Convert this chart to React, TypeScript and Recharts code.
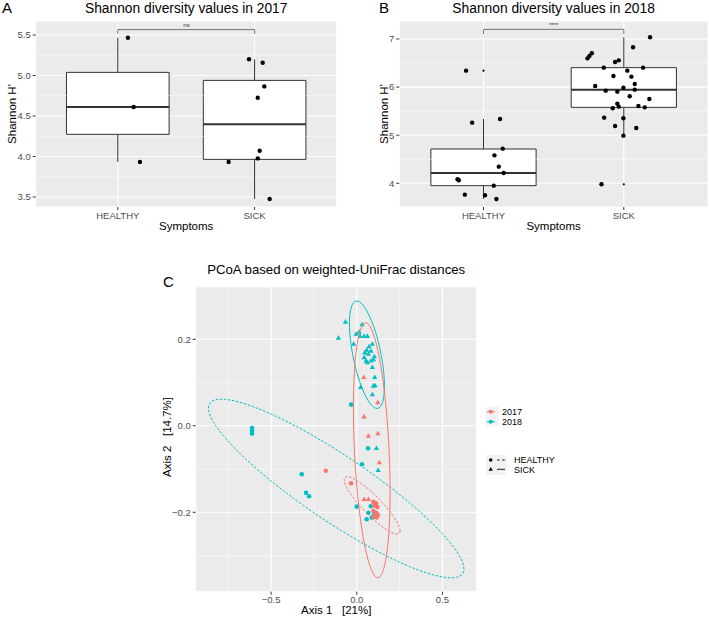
import React from 'react';
import { ScatterChart, Scatter, XAxis, YAxis, CartesianGrid, ReferenceArea, ReferenceLine } from 'recharts';

const FONT = '"Liberation Sans", Arial, sans-serif';
const RED = '#F8766D';
const TEAL = '#00BFC4';
const TICK = { fill: '#4d4d4d', fontSize: 9.5, fontFamily: FONT };

const symptoms = ['HEALTHY', 'SICK'];

// A - Shannon diversity 2017 (jitter = x position of each point around its category)
const healthy2017 = [5.467, 4.611, 3.932];
const healthy2017Jit = [1.074, 1.116, 1.162];
const sick2017 = [5.2, 5.158, 4.866, 4.726, 4.072, 3.977, 3.932, 3.475];
const sick2017Jit = [1.959, 2.059, 2.071, 2.023, 2.037, 2.023, 1.81, 2.11];
const lower2017 = [3.932, 3.475];
const q1_2017 = [4.274, 3.965];
const median2017 = [4.611, 4.397];
const q3_2017 = [5.039, 4.94];
const upper2017 = [5.467, 5.2];
const outliers2017: number[][] = [[], []];

// B - Shannon diversity 2018
const healthy2018 = [6.342, 5.261, 5.337, 4.72, 4.581, 4.346, 4.214, 4.083, 4.062, 3.951, 3.764, 3.75, 3.674];
const healthy2018Jit = [0.876, 0.919, 1.118, 1.137, 1.078, 1.109, 1.144, 0.815, 0.824, 1.073, 0.867, 1.011, 1.092];
const sick2018 = [7.035, 6.827, 6.598, 6.647, 6.702, 6.522, 6.556, 6.404, 6.342, 6.404, 6.231, 6.217, 6.023, 6.064, 5.926, 5.988, 5.905, 5.947, 5.808, 5.753, 5.656, 5.593, 5.607, 5.579, 5.559, 5.365, 5.351, 5.191, 5.15, 4.99, 3.979];
const sick2018Jit = [2.187, 2.066, 1.741, 1.755, 1.772, 1.938, 1.964, 1.857, 2.025, 2.137, 1.926, 2.054, 1.796, 2.078, 1.871, 1.997, 1.954, 2.078, 2.042, 2.182, 1.954, 1.964, 2.104, 2.149, 1.921, 1.86, 1.997, 1.938, 2.089, 1.997, 1.841];
const lower2018 = [3.674, 4.99];
const q1_2018 = [3.951, 5.579];
const median2018 = [4.214, 5.947];
const q3_2018 = [4.713, 6.404];
const upper2018 = [5.337, 7.035];
const outliers2018 = [[6.342], [3.979]];

// C - PCoA weighted UniFrac
const pcoaH17x = [-0.181, -0.033, 0.097, 0.113, 0.103, 0.12, 0.097, 0.113, 0.123, 0.101, 0.116];
const pcoaH17y = [-0.104, -0.133, -0.176, -0.179, -0.185, -0.188, -0.197, -0.201, -0.206, -0.21, -0.212];
const pcoaS17x = [0.041, 0.123, 0.043, 0.068, 0.123, 0.132, 0.043, 0.068];
const pcoaS17y = [0.112, 0.054, 0.021, -0.024, -0.018, -0.085, -0.17, -0.17];
const pcoaH18x = [-0.033, -0.611, -0.611, -0.611, 0.066, 0.031, -0.321, -0.296, -0.278, 0.0, 0.082, 0.068, 0.103, 0.097, 0.058, 0.088];
const pcoaH18y = [0.049, -0.005, -0.012, -0.018, -0.052, -0.089, -0.112, -0.155, -0.163, -0.187, -0.186, -0.201, -0.205, -0.21, -0.216, -0.212];
const pcoaS18x = [-0.066, -0.107, 0.031, -0.004, 0.014, 0.019, 0.043, 0.062, -0.018, 0.091, 0.072, 0.058, 0.083, 0.047, 0.068, 0.103, 0.043, 0.054, 0.083, 0.098, 0.062, 0.091, 0.105, 0.097, 0.107, 0.023, 0.091, 0.115, 0.125];
const pcoaS18y = [0.24, 0.203, 0.234, 0.212, 0.217, 0.207, 0.207, 0.207, 0.189, 0.189, 0.183, 0.175, 0.173, 0.169, 0.166, 0.16, 0.158, 0.15, 0.15, 0.153, 0.146, 0.135, 0.112, 0.092, 0.093, 0.089, 0.072, -0.052, -0.103];

// ellipses: centre and two conjugate half-axes, in data units
const ellH18 = { c: [-0.12, -0.145], a: [0.746, -0.186], b: [0, 0.09] };
const ellS18 = { c: [0.0593, 0.1642], a: [0.1021, -0.0721], b: [0, 0.101] };
const ellS17 = { c: [0.0875, -0.0566], a: [0.107, -0.0964], b: [0, 0.2786] };
const ellH17 = { c: [0.0895, -0.184], a: [0.1634, -0.0592], b: [0, 0.03] };

const pts = (xs: number[], ys: number[]) => xs.map((x, i) => ({ x, y: ys[i] }));

const ellipse = (e: { c: number[]; a: number[]; b: number[] }) =>
  Array.from({ length: 73 }, (_, k) => {
    const t = (k / 72) * 2 * Math.PI;
    return {
      x: e.c[0] + e.a[0] * Math.cos(t) + e.b[0] * Math.sin(t),
      y: e.c[1] + e.a[1] * Math.cos(t) + e.b[1] * Math.sin(t),
    };
  });

const dot = (r: number, fill: string) => (p: any) => <circle cx={p.cx} cy={p.cy} r={r} fill={fill} />;
const tri = (fill: string) => (p: any) => (
  <polygon points={`${p.cx},${p.cy - 2.9} ${p.cx - 2.6},${p.cy + 1.7} ${p.cx + 2.6},${p.cy + 1.7}`} fill={fill} />
);
const noShape = () => <g />;

type BoxProps = {
  left: number;
  width: number;
  yWidth: number;
  right: number;
  domain: [number, number];
  ticks: number[];
  minor: number[];
  values: number[][];
  jitter: number[][];
  lower: number[];
  q1: number[];
  median: number[];
  q3: number[];
  upper: number[];
  outliers: number[][];
  bracket: [number, number];
};

function BoxPanel(p: BoxProps) {
  const boxes: React.ReactElement[] = [];
  symptoms.forEach((s, i) => {
    const x = i + 1;
    boxes.push(
      <ReferenceLine key={s + 'w1'} segment={[{ x, y: p.lower[i] }, { x, y: p.q1[i] }]} stroke="#333" strokeWidth={1} />,
      <ReferenceLine key={s + 'w2'} segment={[{ x, y: p.q3[i] }, { x, y: p.upper[i] }]} stroke="#333" strokeWidth={1} />,
      <ReferenceArea key={s + 'b'} x1={x - 0.375} x2={x + 0.375} y1={p.q1[i]} y2={p.q3[i]} fill="#fff" fillOpacity={1} stroke="#333" strokeWidth={1} />,
      <ReferenceLine key={s + 'm'} segment={[{ x: x - 0.375, y: p.median[i] }, { x: x + 0.375, y: p.median[i] }]} stroke="#333" strokeWidth={2} />
    );
  });
  const [by, foot] = p.bracket;
  return (
    <div style={{ position: 'absolute', left: p.left, top: 0 }}>
      <ScatterChart width={p.width} height={240} margin={{ top: 21, right: p.right, left: 0, bottom: 0 }}>
        <CartesianGrid fill="#ebebeb" fillOpacity={1} stroke="#fff" strokeWidth={1.1} />
        <XAxis type="number" dataKey="x" domain={[0.4, 2.6]} ticks={[1, 2]} tickFormatter={(v: number) => symptoms[v - 1]}
          height={33} tickSize={3} axisLine={false} tickLine={{ stroke: '#333' }} tick={TICK} allowDataOverflow />
        <YAxis type="number" dataKey="y" domain={p.domain} ticks={p.ticks} width={p.yWidth}
          tickFormatter={(v: number) => (p.ticks.some((t) => t % 1 !== 0) ? v.toFixed(1) : String(v))}
          tickSize={3} axisLine={false} tickLine={{ stroke: '#333' }} tick={TICK} allowDataOverflow />
        {p.minor.map((v) => (
          <ReferenceLine key={'mn' + v} y={v} stroke="#fff" strokeWidth={0.5} />
        ))}
        {boxes}
        <ReferenceLine segment={[{ x: 1, y: foot }, { x: 1, y: by }]} stroke="#555" strokeWidth={0.8} />
        <ReferenceLine segment={[{ x: 1, y: by }, { x: 2, y: by }]} stroke="#555" strokeWidth={0.8} />
        <ReferenceLine segment={[{ x: 2, y: by }, { x: 2, y: foot }]} stroke="#555" strokeWidth={0.8} />
        {p.outliers.map((o, i) => (
          <Scatter key={'o' + i} data={o.map((y) => ({ x: i + 1, y }))} shape={dot(1.1, '#000')} isAnimationActive={false} />
        ))}
        {p.values.map((v, i) => (
          <Scatter key={'p' + i} data={pts(p.jitter[i], v)} shape={dot(2.2, '#000')} isAnimationActive={false} />
        ))}
      </ScatterChart>
    </div>
  );
}

function PcoaPanel() {
  const minorX = [-0.75, -0.25, 0.25];
  const minorY = [-0.3, -0.1, 0.1, 0.3];
  const fmt = (v: number) => (v < 0 ? '\u2212' + Math.abs(v).toFixed(1) : v.toFixed(1));
  return (
    <div style={{ position: 'absolute', left: 160, top: 260 }}>
      <ScatterChart width={320} height={350} margin={{ top: 26.7, right: 3.3, left: 0, bottom: 0 }}>
        <CartesianGrid fill="#ebebeb" fillOpacity={1} stroke="#fff" strokeWidth={1.1} />
        <XAxis type="number" dataKey="x" domain={[-0.94, 0.7]} ticks={[-0.5, 0, 0.5]} tickFormatter={fmt}
          height={18.3} tickSize={3} axisLine={false} tickLine={{ stroke: '#333' }} tick={TICK} allowDataOverflow />
        <YAxis type="number" dataKey="y" domain={[-0.3836, 0.3216]} ticks={[-0.2, 0, 0.2]} tickFormatter={fmt}
          width={35.7} tickSize={3} axisLine={false} tickLine={{ stroke: '#333' }} tick={TICK} allowDataOverflow />
        {minorX.map((v) => (
          <ReferenceLine key={'mx' + v} x={v} stroke="#fff" strokeWidth={0.5} />
        ))}
        {minorY.map((v) => (
          <ReferenceLine key={'my' + v} y={v} stroke="#fff" strokeWidth={0.5} />
        ))}
        <Scatter data={pts(pcoaH18x, pcoaH18y)} shape={dot(2.3, TEAL)} isAnimationActive={false} />
        <Scatter data={pts(pcoaS18x, pcoaS18y)} shape={tri(TEAL)} isAnimationActive={false} />
        <Scatter data={pts(pcoaH17x, pcoaH17y)} shape={dot(2.3, RED)} isAnimationActive={false} />
        <Scatter data={pts(pcoaS17x, pcoaS17y)} shape={tri(RED)} isAnimationActive={false} />
        <Scatter data={ellipse(ellH18)} shape={noShape} line={{ stroke: TEAL, strokeWidth: 1, strokeDasharray: '2.5 1.6' }} isAnimationActive={false} />
        <Scatter data={ellipse(ellS18)} shape={noShape} line={{ stroke: TEAL, strokeWidth: 1 }} isAnimationActive={false} />
        <Scatter data={ellipse(ellH17)} shape={noShape} line={{ stroke: RED, strokeWidth: 1, strokeDasharray: '2.5 1.6' }} isAnimationActive={false} />
        <Scatter data={ellipse(ellS17)} shape={noShape} line={{ stroke: RED, strokeWidth: 1 }} isAnimationActive={false} />
      </ScatterChart>
    </div>
  );
}

export default function App() {
  return (
    <div style={{ position: 'absolute', left: 0, top: 0, width: 709, height: 617, background: '#fff', overflow: 'hidden', fontFamily: FONT }}>
      <BoxPanel left={0} width={345} yWidth={35.7} right={8.3} domain={[3.377, 5.673]} ticks={[3.5, 4, 4.5, 5, 5.5]}
        minor={[3.75, 4.25, 4.75, 5.25]} values={[healthy2017, sick2017]} jitter={[healthy2017Jit, sick2017Jit]}
        lower={lower2017} q1={q1_2017} median={median2017} q3={q3_2017} upper={upper2017} outliers={outliers2017} bracket={[5.567, 5.512]} />
      <BoxPanel left={360} width={349} yWidth={39.3} right={1} domain={[3.507, 7.374]} ticks={[4, 5, 6, 7]}
        minor={[4.5, 5.5, 6.5]} values={[healthy2018, sick2018]} jitter={[healthy2018Jit, sick2018Jit]}
        lower={lower2018} q1={q1_2018} median={median2018} q3={q3_2018} upper={upper2018} outliers={outliers2018} bracket={[7.2, 7.104]} />
      <PcoaPanel />
      <svg width={709} height={617} style={{ position: 'absolute', left: 0, top: 0, pointerEvents: 'none' }} fontFamily={FONT}>
        <text x={2} y={12.7} fontSize={15}>A</text>
        <text x={186.2} y={12.5} fontSize={13.8} textAnchor="middle">Shannon diversity values in 2017</text>
        <text x={186.5} y={26.5} fontSize={6} textAnchor="middle" fill="#333">ns</text>
        <text transform="translate(16,114) rotate(-90)" fontSize={11.5} textAnchor="middle">Shannon H'</text>
        <text x={186.2} y={229.5} fontSize={11.5} textAnchor="middle">Symptoms</text>

        <text x={379} y={12.7} fontSize={15}>B</text>
        <text x={553.6} y={12.5} fontSize={13.8} textAnchor="middle">Shannon diversity values in 2018</text>
        <text x={553.6} y={27} fontSize={6} textAnchor="middle" fill="#333">****</text>
        <text transform="translate(388,114) rotate(-90)" fontSize={11.5} textAnchor="middle">Shannon H'</text>
        <text x={553.6} y={229.5} fontSize={11.5} textAnchor="middle">Symptoms</text>

        <text x={163} y={286.5} fontSize={15}>C</text>
        <text x={336.2} y={274} fontSize={13.2} textAnchor="middle">PCoA based on weighted-UniFrac distances</text>
        <text transform="translate(171,437) rotate(-90)" fontSize={11.5} textAnchor="middle" style={{ whiteSpace: 'pre' }}>{'Axis 2   [14.7%]'}</text>
        <text x={336.2} y={614} fontSize={11.5} textAnchor="middle" style={{ whiteSpace: 'pre' }}>{'Axis 1   [21%]'}</text>

        <rect x={486} y={406.7} width={13} height={19.5} fill="#f2f2f2" />
        <line x1={486.7} x2={495} y1={411.7} y2={411.7} stroke={RED} strokeWidth={1} />
        <circle cx={490.7} cy={411.7} r={2} fill={RED} />
        <line x1={486.7} x2={495} y1={421.7} y2={421.7} stroke={TEAL} strokeWidth={1} />
        <circle cx={490.7} cy={421.7} r={2} fill={TEAL} />
        <text x={502} y={415} fontSize={9}>2017</text>
        <text x={502} y={425} fontSize={9}>2018</text>

        <rect x={486} y={455} width={20.5} height={20} fill="#f2f2f2" />
        <circle cx={490.7} cy={460} r={1.8} fill="#000" />
        <line x1={497} x2={505} y1={460} y2={460} stroke="#000" strokeWidth={0.9} strokeDasharray="2.7 2.3" />
        <polygon points="490.7,467 488.6,470.8 492.8,470.8" fill="#000" />
        <line x1={497} x2={505} y1={469.3} y2={469.3} stroke="#000" strokeWidth={0.9} />
        <text x={514} y={462.7} fontSize={9}>HEALTHY</text>
        <text x={514} y={472.7} fontSize={9}>SICK</text>
      </svg>
    </div>
  );
}
